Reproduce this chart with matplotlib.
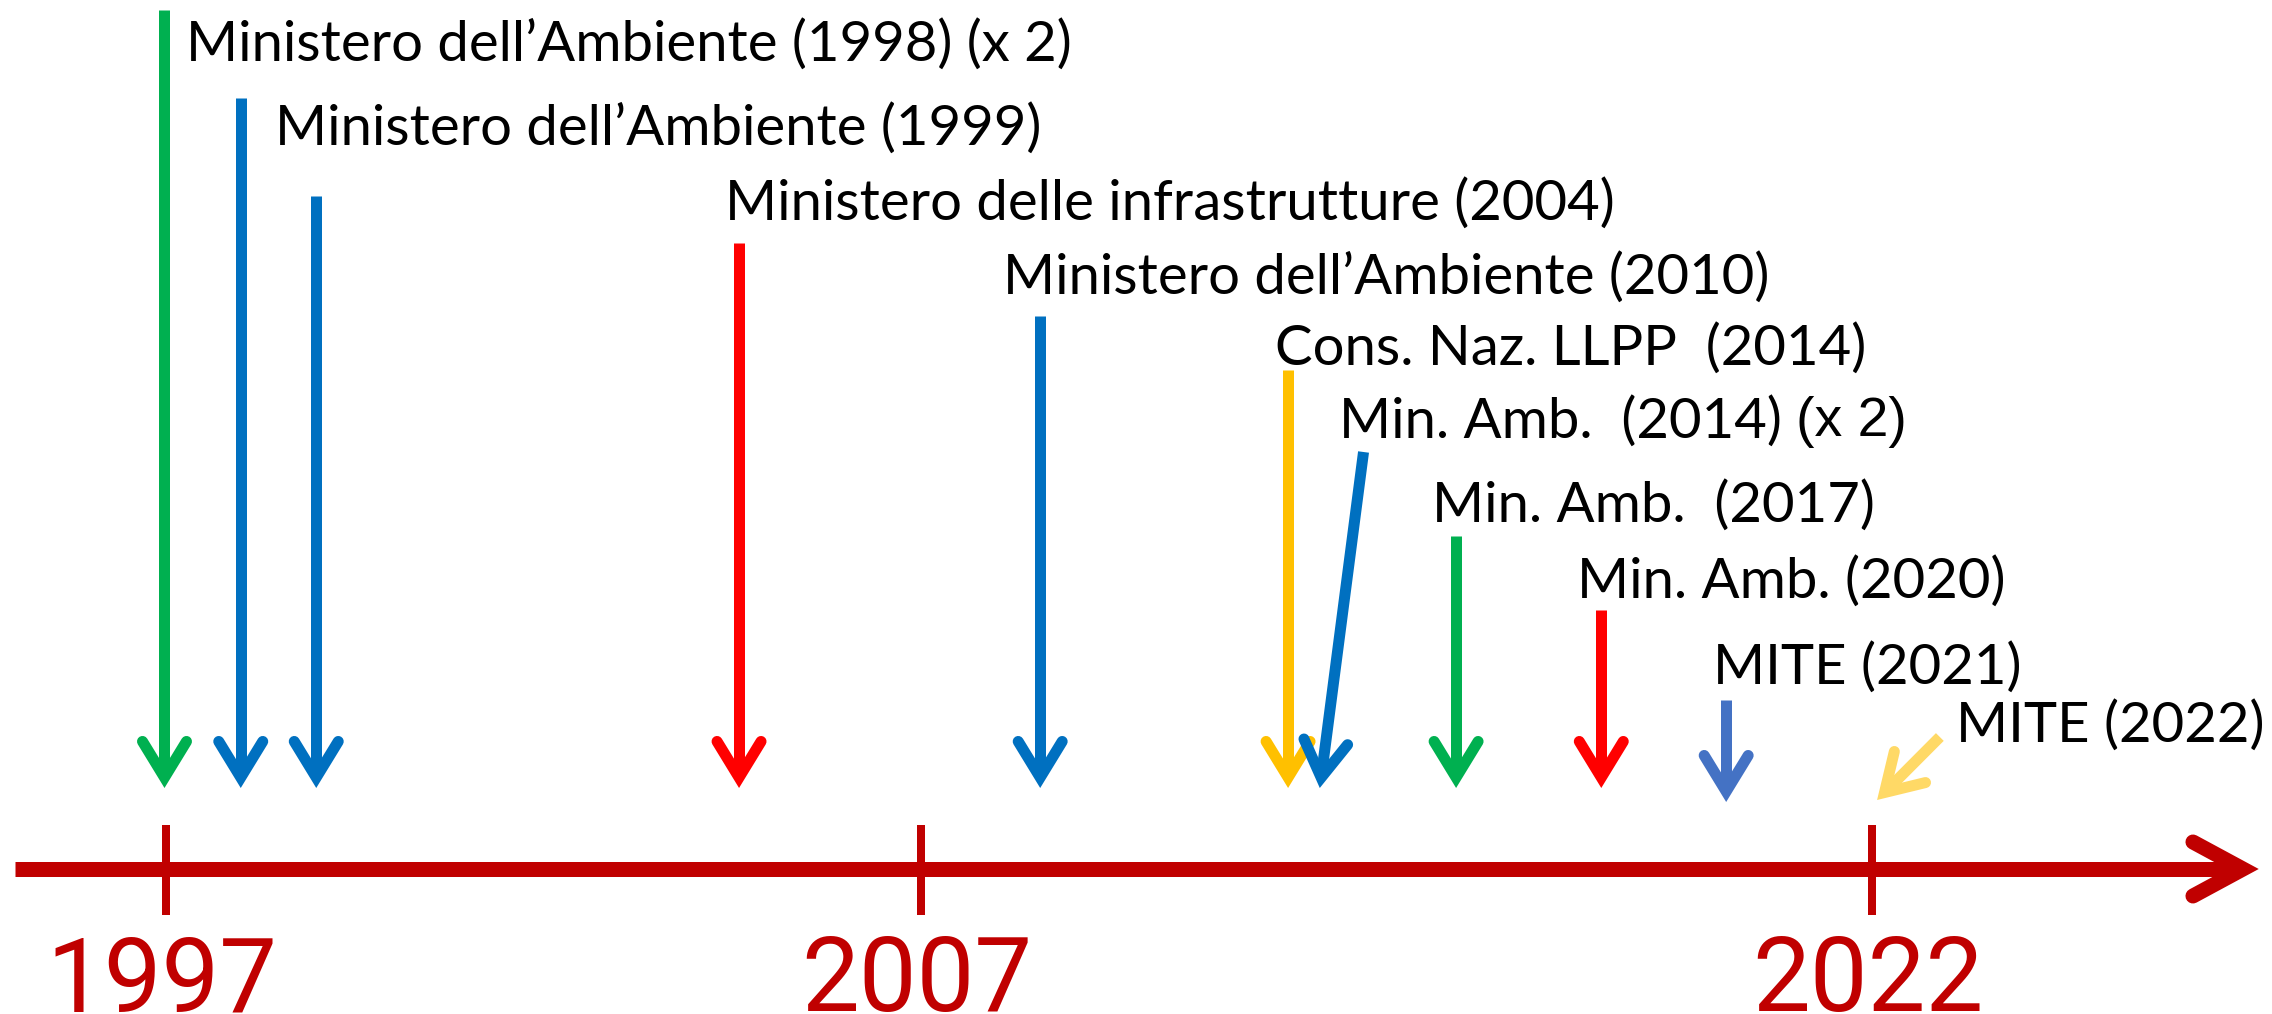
import numpy as np
import matplotlib
matplotlib.use("Agg")
import matplotlib.pyplot as plt

# ---------------- data ----------------
tick_years = [1997, 2007, 2022]
tick_labels = ["1997", "2007", "2022"]
timeline_start, timeline_end = 1995.0, 2028.1

event_labels = [
    "Ministero dell\u2019Ambiente (1998) (x 2)",
    "Ministero dell\u2019Ambiente (1999)",
    None,
    "Ministero delle infrastrutture (2004)",
    "Ministero dell\u2019Ambiente (2010)",
    "Cons. Naz. LLPP  (2014)",
    "Min. Amb.  (2014) ",
    "Min. Amb.  (2017)",
    "Min. Amb. (2020)",
    "MITE (2021)",
    "MITE (2022)",
]
# where each arrow sits on the (non-linear) timeline, in years
arrow_tail_year = [1996.98, 1997.99, 1998.99, 2004.59, 2008.88, 2012.79, 2013.98, 2015.44, 2017.73, 2019.70, 2023.07]
arrow_tip_year = [1996.98, 1997.99, 1998.99, 2004.59, 2008.88, 2012.79, 2013.29, 2015.44, 2017.73, 2019.70, 2022.08]
arrow_colors = ["#00B050", "#0070C0", "#0070C0", "#FF0000", "#0070C0", "#FFC000",
                "#0070C0", "#00B050", "#FF0000", "#4472C4", "#FFD966"]
label_year = [1997.26, 1998.44, None, 2004.40, 2008.29, 2012.58, 2013.59, 2015.06, 2017.34, 2019.49, 2023.32]

# ---------------- layout ----------------
TICK_PX = [166, 921, 1872]
arrow_tail_y = [10, 98, 196, 243, 316, 370, 452, 536, 610, 700, 737]
arrow_tip_y = [788, 788, 788, 788, 788, 788, 788, 788, 788, 802, 800]
label_base_y = [61, 145, 220, 220, 294, 365, 438, 522, 598, 684, 742]
TIMELINE_Y = 869
DARKRED = "#C00000"
PT = 0.72  # px -> pt at dpi 100

s1 = (TICK_PX[1] - TICK_PX[0]) / (tick_years[1] - tick_years[0])
s2 = (TICK_PX[2] - TICK_PX[1]) / (tick_years[2] - tick_years[1])


def fwd(v):
    v = np.asarray(v, float)
    return np.where(v < tick_years[1], TICK_PX[0] + (v - tick_years[0]) * s1,
                    TICK_PX[1] + (v - tick_years[1]) * s2)


def inv(p):
    p = np.asarray(p, float)
    return np.where(p < TICK_PX[1], tick_years[0] + (p - TICK_PX[0]) / s1,
                    tick_years[1] + (p - TICK_PX[1]) / s2)


fig = plt.figure(figsize=(22.72, 10.14), dpi=100)
ax = fig.add_axes([0, 0, 1, 1])
ax.set_xscale("function", functions=(fwd, inv))
ax.set_xlim(float(inv(0)), float(inv(2272)))
ax.set_ylim(1014, 0)
ax.axis("off")


def arrow(x0, y0, x1, y1, color, lw_px, hl_px, hw_px, z=4):
    """Shaft + open chevron head with round ends and a sharp tip."""
    td = ax.transData
    p0 = td.transform((x0, y0))
    p1 = td.transform((x1, y1))
    d = p1 - p0
    u = d / np.hypot(*d)
    n = np.array([-u[1], u[0]])
    sin_t = hw_px / np.hypot(hl_px, hw_px)
    v = p1 - u * (0.5 * lw_px / sin_t)
    a1 = v - u * hl_px + n * hw_px
    a2 = v - u * hl_px - n * hw_px
    it = td.inverted()
    sh = it.transform(np.array([p0, v]))
    hd = it.transform(np.array([a1, v, a2]))
    ax.plot(sh[:, 0], sh[:, 1], color=color, lw=lw_px * PT, solid_capstyle="butt", zorder=z)
    ax.plot(hd[:, 0], hd[:, 1], color=color, lw=lw_px * PT, solid_capstyle="round",
            solid_joinstyle="miter", zorder=z)


# timeline
arrow(timeline_start, TIMELINE_Y, timeline_end, TIMELINE_Y, DARKRED, 15, 50, 27, z=2)

# ticks and year labels
for yr, lab in zip(tick_years, tick_labels):
    ax.plot([yr, yr], [825, 915], color=DARKRED, lw=8 * PT, solid_capstyle="butt", zorder=3)
    ax.text(yr - 0.06, 1011, lab, ha="center", va="baseline", color=DARKRED,
            fontsize=74, fontfamily="Roboto", fontweight="normal")

# event arrows
for xt, yt, xh, yh, c in zip(arrow_tail_year, arrow_tail_y, arrow_tip_year, arrow_tip_y, arrow_colors):
    arrow(xt, yt, xh, yh, c, 11, 36, 22)

# labels
FONT = ["Lato", "DejaVu Sans"]
for i, (lab, lx, ly) in enumerate(zip(event_labels, label_year, label_base_y)):
    if lab is None:
        continue
    t = ax.text(lx, ly, lab, ha="left", va="baseline", color="black",
                fontsize=40.5, fontfamily=FONT, fontweight="normal", zorder=5)
    if i == 6:
        ax.annotate("(x 2)", xy=(1, 0), xycoords=t, ha="left", va="bottom",
                    color="black", fontsize=40, fontfamily=["Liberation Sans", "DejaVu Sans"],
                    zorder=5)

fig.savefig("out.png", dpi=100, facecolor="white")
